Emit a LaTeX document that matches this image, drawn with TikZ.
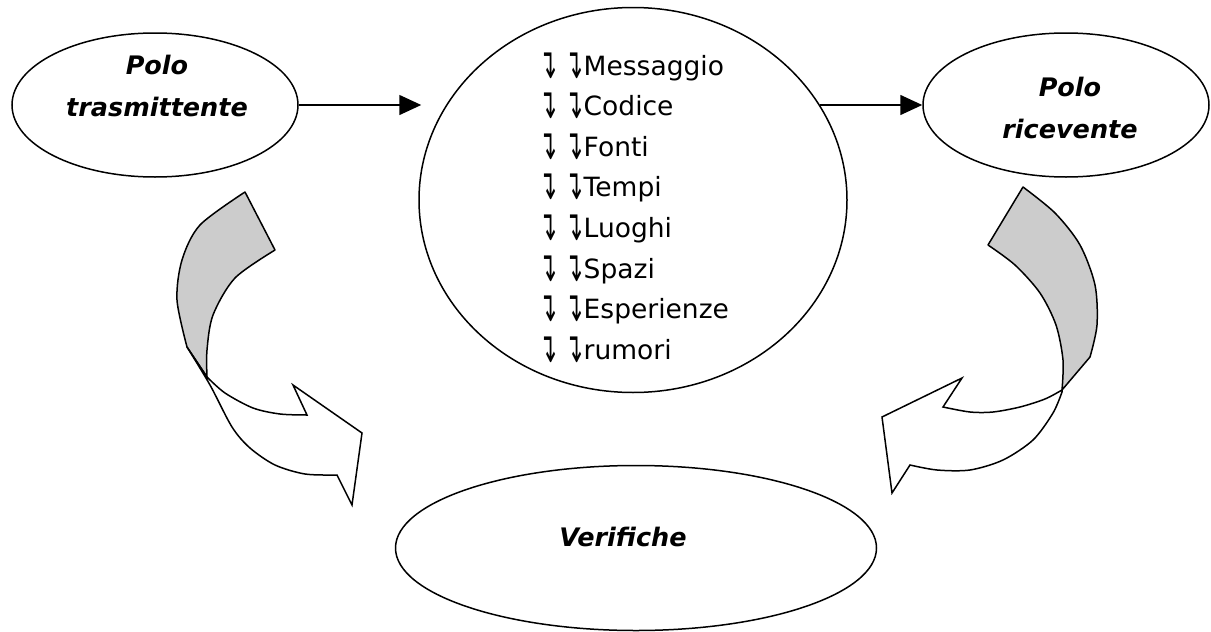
\documentclass[tikz,border=0pt]{standalone}
\usepackage{fontspec}
\setmainfont{DejaVu Sans}
\usetikzlibrary{shapes.geometric,arrows.meta}
\definecolor{ribbongray}{RGB}{204,204,204}
\newcommand{\bul}{\raisebox{-3pt}{\scalebox{0.8}[1.6]{↴}}}
\begin{document}
\begin{tikzpicture}[x=1pt,y=-1pt,
  oval/.style={draw,ellipse,line width=1.5pt,inner sep=0pt},
  title/.style={font=\fontsize{25.5}{42}\selectfont\bfseries\itshape,align=center,inner sep=0pt},
  item/.style={font=\fontsize{26.5}{40}\selectfont,anchor=base west,inner sep=0pt},
  link/.style={line width=1.5pt,-{Triangle[length=22pt,width=20pt]}},
  back/.style={draw,fill=ribbongray,line width=1.5pt,line join=round},
  front/.style={draw,fill=white,line width=1.5pt,line join=miter}]
\useasboundingbox (0,0) rectangle (1211,632);

% ellipses
\node[oval,minimum width=286pt,minimum height=144pt] (left) at (155,105) {};
\node[oval,minimum width=286pt,minimum height=144pt] (right) at (1066,105) {};
\node[oval,minimum width=428pt,minimum height=385pt] (center) at (633,200) {};
\node[oval,minimum width=481pt,minimum height=165pt] (verif) at (636,548) {};

% labels
\node[title] (lefttxt) at (157,86) {Polo\\trasmittente};
\node[title] (righttxt) at (1070,108) {Polo\\ricevente};
\node[title] (veriftxt) at (623,537) {Verifiche};

% list
\foreach \t [count=\i from 0] in {Messaggio,Codice,Fonti,Tempi,Luoghi,Spazi,Esperienze,rumori}
  \node[item] (item\i) at (539,75+40.6*\i) {\bul\hspace{9pt}\bul\t};

% straight connectors
\draw[link,shorten >=-3pt] (left.east) -- (left.east -| center.west);
\draw[link] (center.27 |- right.west) -- (right.west);

% left curved arrow
\filldraw[back] (245,192) -- (275,250)
  -- plot[smooth] coordinates {(275,250) (235,278) (213,315) (207,350) (207,377)}
  -- (187,347)
  -- plot[smooth] coordinates {(187,347) (177,300) (182,260) (200,225) (245,192)}
  -- cycle;
\filldraw[front] (207,377)
  -- plot[smooth] coordinates {(207,377) (225,393) (253,408) (280,414) (307,415)}
  -- (293,385) -- (362,433) -- (352,505) -- (337,475)
  -- plot[smooth] coordinates {(337,475) (305,474) (275,465) (250,448) (232,427) (210,385) (187,347)}
  -- cycle;

% right curved arrow
\filldraw[back] (1023,187) -- (988,245)
  -- plot[smooth] coordinates {(988,245) (1015,265) (1040,293) (1056,325) (1063,360) (1062,390)}
  -- (1090,357)
  -- plot[smooth] coordinates {(1090,357) (1097,325) (1095,285) (1080,245) (1055,213) (1023,187)}
  -- cycle;
\filldraw[front] (1062,390)
  -- plot[smooth] coordinates {(1062,390) (1045,399) (1020,407) (993,412) (970,412) (943,407)}
  -- (962,378) -- (882,417) -- (892,493) -- (910,465)
  -- plot[smooth] coordinates {(910,465) (937,470) (970,470) (1003,460) (1033,440) (1053,413) (1062,392)}
  -- cycle;
\end{tikzpicture}
\end{document}
